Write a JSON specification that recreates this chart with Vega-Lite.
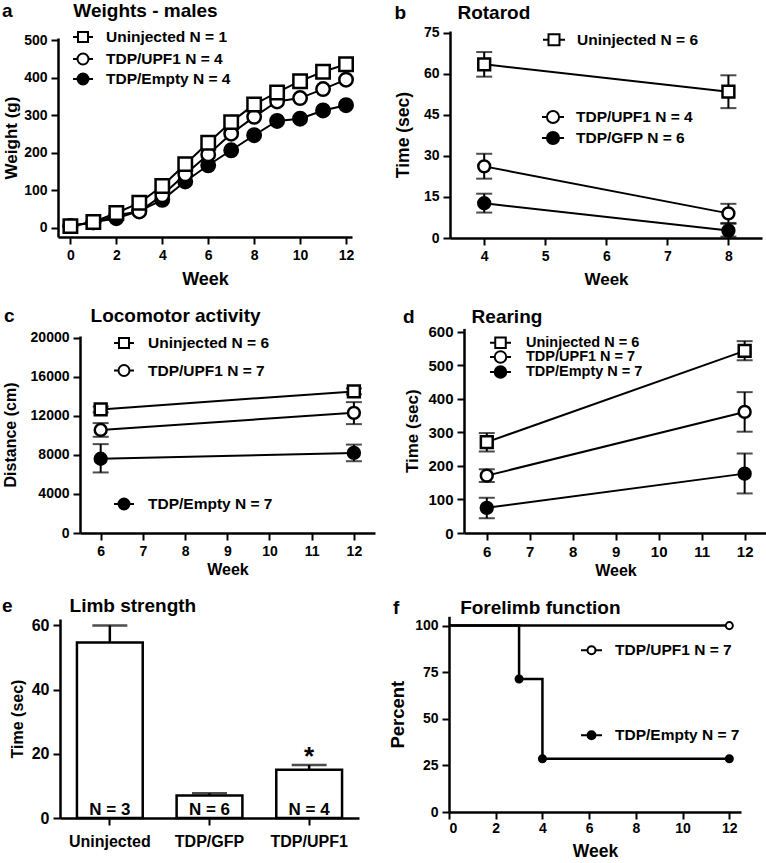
{
  "$schema": "https://vega.github.io/schema/vega-lite/v6.json",
  "padding": {"left": 2, "top": 2, "right": 0, "bottom": 0},
  "background": "white",
  "config": {
    "font": "Liberation Sans",
    "view": {"stroke": null},
    "axis": {"domainColor": "black", "domainWidth": 2.5, "tickColor": "black", "tickWidth": 2, "tickSize": 7, "labelColor": "black", "labelFontWeight": "bold", "labelFontSize": 14, "labelPadding": 4, "titleColor": "black", "titleFontWeight": "bold", "titleFontSize": 17, "grid": false},
    "title": {"fontSize": 19, "fontWeight": "bold", "color": "black", "anchor": "start", "frame": "bounds", "offset": 6},
    "legend": {"labelFontWeight": "bold", "labelColor": "black", "labelFontSize": 15.5, "padding": 0, "symbolStrokeWidth": 2, "symbolStrokeColor": "black", "symbolFillColor": "transparent", "symbolOpacity": 1, "title": null, "orient": "none"}
  },
  "datasets": {
    "a": [
      {"week": 0, "group": "TDP/Empty N = 4", "mean": 5}, {"week": 1, "group": "TDP/Empty N = 4", "mean": 15}, {"week": 2, "group": "TDP/Empty N = 4", "mean": 26}, {"week": 3, "group": "TDP/Empty N = 4", "mean": 45}, {"week": 4, "group": "TDP/Empty N = 4", "mean": 75}, {"week": 5, "group": "TDP/Empty N = 4", "mean": 124}, {"week": 6, "group": "TDP/Empty N = 4", "mean": 167}, {"week": 7, "group": "TDP/Empty N = 4", "mean": 207}, {"week": 8, "group": "TDP/Empty N = 4", "mean": 247}, {"week": 9, "group": "TDP/Empty N = 4", "mean": 285}, {"week": 10, "group": "TDP/Empty N = 4", "mean": 291}, {"week": 11, "group": "TDP/Empty N = 4", "mean": 313}, {"week": 12, "group": "TDP/Empty N = 4", "mean": 327},
      {"week": 0, "group": "TDP/UPF1 N = 4", "mean": 5}, {"week": 1, "group": "TDP/UPF1 N = 4", "mean": 15}, {"week": 2, "group": "TDP/UPF1 N = 4", "mean": 34}, {"week": 3, "group": "TDP/UPF1 N = 4", "mean": 44}, {"week": 4, "group": "TDP/UPF1 N = 4", "mean": 87}, {"week": 5, "group": "TDP/UPF1 N = 4", "mean": 143}, {"week": 6, "group": "TDP/UPF1 N = 4", "mean": 196}, {"week": 7, "group": "TDP/UPF1 N = 4", "mean": 251}, {"week": 8, "group": "TDP/UPF1 N = 4", "mean": 296}, {"week": 9, "group": "TDP/UPF1 N = 4", "mean": 337}, {"week": 10, "group": "TDP/UPF1 N = 4", "mean": 346}, {"week": 11, "group": "TDP/UPF1 N = 4", "mean": 370}, {"week": 12, "group": "TDP/UPF1 N = 4", "mean": 395},
      {"week": 0, "group": "Uninjected N = 1", "mean": 5}, {"week": 1, "group": "Uninjected N = 1", "mean": 16}, {"week": 2, "group": "Uninjected N = 1", "mean": 40}, {"week": 3, "group": "Uninjected N = 1", "mean": 67}, {"week": 4, "group": "Uninjected N = 1", "mean": 112}, {"week": 5, "group": "Uninjected N = 1", "mean": 170}, {"week": 6, "group": "Uninjected N = 1", "mean": 227}, {"week": 7, "group": "Uninjected N = 1", "mean": 282}, {"week": 8, "group": "Uninjected N = 1", "mean": 329}, {"week": 9, "group": "Uninjected N = 1", "mean": 361}, {"week": 10, "group": "Uninjected N = 1", "mean": 391}, {"week": 11, "group": "Uninjected N = 1", "mean": 416}, {"week": 12, "group": "Uninjected N = 1", "mean": 436}
    ],
    "b": [
      {"week": 4, "group": "TDP/GFP N = 6", "mean": 12.7, "lo": 9.3, "hi": 16.2},
      {"week": 8, "group": "TDP/GFP N = 6", "mean": 2.7, "lo": 0.5, "hi": 5.2},
      {"week": 4, "group": "TDP/UPF1 N = 4", "mean": 26.2, "lo": 21.7, "hi": 30.8},
      {"week": 8, "group": "TDP/UPF1 N = 4", "mean": 9, "lo": 5.5, "hi": 12.5},
      {"week": 4, "group": "Uninjected N = 6", "mean": 63.5, "lo": 59, "hi": 68},
      {"week": 8, "group": "Uninjected N = 6", "mean": 53.5, "lo": 47.5, "hi": 59.5}
    ],
    "c": [
      {"week": 6, "group": "TDP/Empty N = 7", "mean": 7600, "lo": 6200, "hi": 9100},
      {"week": 12, "group": "TDP/Empty N = 7", "mean": 8200, "lo": 7350, "hi": 9050},
      {"week": 6, "group": "TDP/UPF1 N = 7", "mean": 10550, "lo": 9850, "hi": 11250},
      {"week": 12, "group": "TDP/UPF1 N = 7", "mean": 12300, "lo": 11150, "hi": 13400},
      {"week": 6, "group": "Uninjected N = 6", "mean": 12650, "lo": 12350, "hi": 12950},
      {"week": 12, "group": "Uninjected N = 6", "mean": 14500, "lo": 14200, "hi": 14800}
    ],
    "d": [
      {"week": 6, "group": "TDP/Empty N = 7", "mean": 75, "lo": 44, "hi": 105},
      {"week": 12, "group": "TDP/Empty N = 7", "mean": 177, "lo": 118, "hi": 237},
      {"week": 6, "group": "TDP/UPF1 N = 7", "mean": 171, "lo": 152, "hi": 190},
      {"week": 12, "group": "TDP/UPF1 N = 7", "mean": 361, "lo": 302, "hi": 420},
      {"week": 6, "group": "Uninjected N = 6", "mean": 271, "lo": 243, "hi": 298},
      {"week": 12, "group": "Uninjected N = 6", "mean": 543, "lo": 515, "hi": 572}
    ],
    "e": [
      {"group": "Uninjected", "mean": 54.7, "hi": 60, "n": "N = 3", "sig": ""},
      {"group": "TDP/GFP", "mean": 7.0, "hi": 7.7, "n": "N = 6", "sig": ""},
      {"group": "TDP/UPF1", "mean": 15.0, "hi": 16.5, "n": "N = 4", "sig": "*"}
    ],
    "f_line": [
      {"week": 0, "group": "TDP/UPF1 N = 7", "pct": 100}, {"week": 12, "group": "TDP/UPF1 N = 7", "pct": 100},
      {"week": 0, "group": "TDP/Empty N = 7", "pct": 100}, {"week": 3, "group": "TDP/Empty N = 7", "pct": 71.4}, {"week": 4, "group": "TDP/Empty N = 7", "pct": 28.6}, {"week": 12, "group": "TDP/Empty N = 7", "pct": 28.6}
    ],
    "f_pts": [
      {"week": 12, "group": "TDP/UPF1 N = 7", "pct": 100},
      {"week": 3, "group": "TDP/Empty N = 7", "pct": 71.4}, {"week": 4, "group": "TDP/Empty N = 7", "pct": 28.6}, {"week": 12, "group": "TDP/Empty N = 7", "pct": 28.6}
    ]
  },
  "columns": 1,
  "align": "none",
  "spacing": 19,
  "resolve": {"scale": {"shape": "independent", "fill": "independent"}},
  "concat": [
    {
      "columns": 2, "align": "none", "spacing": 20,
      "resolve": {"scale": {"shape": "independent", "fill": "independent"}},
      "concat": [
        {
          "width": 272, "height": 199,
          "title": {"text": "a\u2003\u2003\u2003\u2009Weights - males", "offset": 4.6},
          "data": {"name": "a"},
          "encoding": {
            "x": {"field": "week", "type": "quantitative", "scale": {"domain": [-0.54, 12.26], "range": [-22, 272], "nice": false, "zero": false}, "axis": {"values": [0, 2, 4, 6, 8, 10, 12], "title": "Week", "titleFontSize": 18, "titlePadding": 8}},
            "y": {"field": "mean", "type": "quantitative", "scale": {"domain": [-24, 506], "nice": false, "zero": false}, "axis": {"values": [0, 100, 200, 300, 400, 500], "title": "Weight (g)", "offset": 22, "minExtent": 32, "maxExtent": 32, "titlePadding": 6}}
          },
          "layer": [
            {"mark": {"type": "line", "color": "black", "strokeWidth": 2}, "encoding": {"detail": {"field": "group"}}},
            {"transform": [{"filter": "datum.group === 'Uninjected N = 1'"}], "mark": {"type": "point", "filled": false, "color": "black", "strokeWidth": 2, "size": 4},
             "encoding": {"shape": {"field": "group", "type": "nominal", "scale": {"domain": ["Uninjected N = 1"], "range": ["M-1,0H-0.5M0.5,0H1M-0.5,-0.5H0.5V0.5H-0.5Z"]},
               "legend": {"legendX": -8, "legendY": -12, "symbolSize": 400, "labelOffset": 12}}}},
            {"transform": [{"filter": "datum.group === 'TDP/UPF1 N = 4'"}], "mark": {"type": "point", "filled": false, "color": "black", "strokeWidth": 2, "size": 4},
             "encoding": {"shape": {"field": "group", "type": "nominal", "scale": {"domain": ["TDP/UPF1 N = 4"], "range": ["M-1,0H-0.55M0.55,0H1M-0.55,0A0.55,0.55,0,1,0,0.55,0A0.55,0.55,0,1,0,-0.55,0Z"]},
               "legend": {"legendX": -8, "legendY": 10, "symbolSize": 400, "labelOffset": 12}}}},
            {"transform": [{"filter": "datum.group === 'TDP/Empty N = 4'"}], "mark": {"type": "point", "filled": false, "color": "black", "strokeWidth": 2, "size": 4},
             "encoding": {"shape": {"field": "group", "type": "nominal", "scale": {"domain": ["TDP/Empty N = 4"], "range": ["M-1,0H-0.55M0.55,0H1M-0.55,0A0.55,0.55,0,1,0,0.55,0A0.55,0.55,0,1,0,-0.55,0ZM-0.4,0A0.4,0.4,0,1,0,0.4,0A0.4,0.4,0,1,0,-0.4,0ZM-0.25,0A0.25,0.25,0,1,0,0.25,0A0.25,0.25,0,1,0,-0.25,0ZM-0.1,0A0.1,0.1,0,1,0,0.1,0A0.1,0.1,0,1,0,-0.1,0Z"]},
               "legend": {"legendX": -8, "legendY": 30, "symbolSize": 400, "labelOffset": 12}}}},
            {"mark": {"type": "point", "filled": true, "stroke": "black", "strokeWidth": 2.5, "size": 180, "opacity": 1},
             "encoding": {
               "shape": {"field": "group", "type": "nominal", "scale": {"domain": ["Uninjected N = 1", "TDP/UPF1 N = 4", "TDP/Empty N = 4"], "range": ["square", "circle", "circle"]}, "legend": null},
               "fill": {"field": "group", "type": "nominal", "scale": {"domain": ["Uninjected N = 1", "TDP/UPF1 N = 4", "TDP/Empty N = 4"], "range": ["white", "white", "black"]}, "legend": null}
             }}
          ],
          "resolve": {"scale": {"shape": "independent"}}
        },
        {
          "width": 312, "height": 200,
          "title": {"text": "b\u2003\u2003\u2002\u2009Rotarod", "offset": 3.3},
          "data": {"name": "b"},
          "encoding": {
            "x": {"field": "week", "type": "quantitative", "scale": {"domain": [3.44, 8.55], "nice": false, "zero": false}, "axis": {"values": [4, 5, 6, 7, 8], "title": "Week", "titleFontSize": 17, "titlePadding": 8}},
            "y": {"field": "mean", "type": "quantitative", "scale": {"domain": [0, 75.7], "range": [200, -7], "nice": false, "zero": false}, "axis": {"values": [0, 15, 30, 45, 60, 75], "title": "Time (sec)", "titleFontSize": 17.5, "minExtent": 31.5, "maxExtent": 31.5, "titlePadding": 6}}
          },
          "layer": [
            {"mark": {"type": "line", "color": "black", "strokeWidth": 2}, "encoding": {"detail": {"field": "group"}}},
            {"mark": {"type": "errorbar", "color": "black", "ticks": {"size": 16, "thickness": 2, "color": "black"}, "rule": {"strokeWidth": 2, "color": "black"}}, "encoding": {"y": {"field": "lo", "type": "quantitative", "scale": {"domain": [0, 75.7], "range": [200, -7], "nice": false, "zero": false}, "title": "Time (sec)"}, "y2": {"field": "hi"}}},
            {"transform": [{"filter": "datum.group === 'Uninjected N = 6'"}], "mark": {"type": "point", "filled": false, "color": "black", "strokeWidth": 2, "size": 4},
             "encoding": {"shape": {"field": "group", "type": "nominal", "scale": {"domain": ["Uninjected N = 6"], "range": ["M-1,0H-0.5M0.5,0H1M-0.5,-0.5H0.5V0.5H-0.5Z"]},
               "legend": {"legendX": 92, "legendY": -10.3, "symbolSize": 484, "labelOffset": 11}}}},
            {"transform": [{"filter": "datum.group === 'TDP/UPF1 N = 4'"}], "mark": {"type": "point", "filled": false, "color": "black", "strokeWidth": 2, "size": 4},
             "encoding": {"shape": {"field": "group", "type": "nominal", "scale": {"domain": ["TDP/UPF1 N = 4"], "range": ["M-1,0H-0.55M0.55,0H1M-0.55,0A0.55,0.55,0,1,0,0.55,0A0.55,0.55,0,1,0,-0.55,0Z"]},
               "legend": {"legendX": 91, "legendY": 67, "symbolSize": 484, "labelOffset": 11}}}},
            {"transform": [{"filter": "datum.group === 'TDP/GFP N = 6'"}], "mark": {"type": "point", "filled": false, "color": "black", "strokeWidth": 2, "size": 4},
             "encoding": {"shape": {"field": "group", "type": "nominal", "scale": {"domain": ["TDP/GFP N = 6"], "range": ["M-1,0H-0.55M0.55,0H1M-0.55,0A0.55,0.55,0,1,0,0.55,0A0.55,0.55,0,1,0,-0.55,0ZM-0.4,0A0.4,0.4,0,1,0,0.4,0A0.4,0.4,0,1,0,-0.4,0ZM-0.25,0A0.25,0.25,0,1,0,0.25,0A0.25,0.25,0,1,0,-0.25,0ZM-0.1,0A0.1,0.1,0,1,0,0.1,0A0.1,0.1,0,1,0,-0.1,0Z"]},
               "legend": {"legendX": 91, "legendY": 88, "symbolSize": 484, "labelOffset": 11}}}},
            {"mark": {"type": "point", "filled": true, "stroke": "black", "strokeWidth": 2.5, "size": 140, "opacity": 1},
             "encoding": {
               "shape": {"field": "group", "type": "nominal", "scale": {"domain": ["Uninjected N = 6", "TDP/UPF1 N = 4", "TDP/GFP N = 6"], "range": ["square", "circle", "circle"]}, "legend": null},
               "fill": {"field": "group", "type": "nominal", "scale": {"domain": ["Uninjected N = 6", "TDP/UPF1 N = 4", "TDP/GFP N = 6"], "range": ["white", "white", "black"]}, "legend": null}
             }}
          ],
          "resolve": {"scale": {"shape": "independent"}}
        }
      ]
    },
    {
      "columns": 2, "align": "none", "spacing": 28,
      "resolve": {"scale": {"shape": "independent", "fill": "independent"}},
      "concat": [
        {
          "width": 295, "height": 197,
          "title": {"text": "c\u2003\u2003\u2003\u2003Locomotor activity", "offset": 4.2, "dx": 2},
          "data": {"name": "c"},
          "encoding": {
            "x": {"field": "week", "type": "quantitative", "scale": {"domain": [5.51, 12.5], "nice": false, "zero": false}, "axis": {"values": [6, 7, 8, 9, 10, 11, 12], "title": "Week", "titleFontSize": 16, "titlePadding": 3}},
            "y": {"field": "mean", "type": "quantitative", "scale": {"domain": [0, 20170], "nice": false, "zero": false}, "axis": {"values": [0, 4000, 8000, 12000, 16000, 20000], "format": "d", "title": "Distance (cm)", "titleFontSize": 16, "minExtent": 56, "maxExtent": 56, "titlePadding": 6}}
          },
          "layer": [
            {"mark": {"type": "line", "color": "black", "strokeWidth": 2}, "encoding": {"detail": {"field": "group"}}},
            {"mark": {"type": "errorbar", "color": "black", "ticks": {"size": 16, "thickness": 2, "color": "black"}, "rule": {"strokeWidth": 2, "color": "black"}}, "encoding": {"y": {"field": "lo", "type": "quantitative", "scale": {"domain": [0, 20170], "nice": false, "zero": false}, "title": "Distance (cm)"}, "y2": {"field": "hi"}}},
            {"transform": [{"filter": "datum.group === 'Uninjected N = 6'"}], "mark": {"type": "point", "filled": false, "color": "black", "strokeWidth": 2, "size": 4},
             "encoding": {"shape": {"field": "group", "type": "nominal", "scale": {"domain": ["Uninjected N = 6"], "range": ["M-1,0H-0.5M0.5,0H1M-0.5,-0.5H0.5V0.5H-0.5Z"]},
               "legend": {"legendX": 33, "legendY": -4, "symbolSize": 400, "labelOffset": 13}}}},
            {"transform": [{"filter": "datum.group === 'TDP/UPF1 N = 7'"}], "mark": {"type": "point", "filled": false, "color": "black", "strokeWidth": 2, "size": 4},
             "encoding": {"shape": {"field": "group", "type": "nominal", "scale": {"domain": ["TDP/UPF1 N = 7"], "range": ["M-1,0H-0.55M0.55,0H1M-0.55,0A0.55,0.55,0,1,0,0.55,0A0.55,0.55,0,1,0,-0.55,0Z"]},
               "legend": {"legendX": 33, "legendY": 23.5, "symbolSize": 400, "labelOffset": 13}}}},
            {"transform": [{"filter": "datum.group === 'TDP/Empty N = 7'"}], "mark": {"type": "point", "filled": false, "color": "black", "strokeWidth": 2, "size": 4},
             "encoding": {"shape": {"field": "group", "type": "nominal", "scale": {"domain": ["TDP/Empty N = 7"], "range": ["M-1,0H-0.55M0.55,0H1M-0.55,0A0.55,0.55,0,1,0,0.55,0A0.55,0.55,0,1,0,-0.55,0ZM-0.4,0A0.4,0.4,0,1,0,0.4,0A0.4,0.4,0,1,0,-0.4,0ZM-0.25,0A0.25,0.25,0,1,0,0.25,0A0.25,0.25,0,1,0,-0.25,0ZM-0.1,0A0.1,0.1,0,1,0,0.1,0A0.1,0.1,0,1,0,-0.1,0Z"]},
               "legend": {"legendX": 33, "legendY": 157, "symbolSize": 400, "labelOffset": 13}}}},
            {"mark": {"type": "point", "filled": true, "stroke": "black", "strokeWidth": 2.5, "size": 140, "opacity": 1},
             "encoding": {
               "shape": {"field": "group", "type": "nominal", "scale": {"domain": ["Uninjected N = 6", "TDP/UPF1 N = 7", "TDP/Empty N = 7"], "range": ["square", "circle", "circle"]}, "legend": null},
               "fill": {"field": "group", "type": "nominal", "scale": {"domain": ["Uninjected N = 6", "TDP/UPF1 N = 7", "TDP/Empty N = 7"], "range": ["white", "white", "black"]}, "legend": null}
             }}
          ],
          "resolve": {"scale": {"shape": "independent"}}
        },
        {
          "width": 303, "height": 197,
          "title": {"text": "d\u2003\u2003\u2003Rearing", "offset": -2.5},
          "data": {"name": "d"},
          "encoding": {
            "x": {"field": "week", "type": "quantitative", "scale": {"domain": [5.47, 12.52], "nice": false, "zero": false}, "axis": {"values": [6, 7, 8, 9, 10, 11, 12], "title": "Week", "titleFontSize": 16, "titlePadding": 3, "labelFontSize": 15}},
            "y": {"field": "mean", "type": "quantitative", "scale": {"domain": [0, 610], "range": [197, -7.6], "nice": false, "zero": false}, "axis": {"values": [0, 100, 200, 300, 400, 500, 600], "title": "Time (sec)", "labelFontSize": 15, "minExtent": 37, "maxExtent": 37, "titlePadding": 6}}
          },
          "layer": [
            {"mark": {"type": "line", "color": "black", "strokeWidth": 2}, "encoding": {"detail": {"field": "group"}}},
            {"mark": {"type": "errorbar", "color": "black", "ticks": {"size": 16, "thickness": 2, "color": "black"}, "rule": {"strokeWidth": 2, "color": "black"}}, "encoding": {"y": {"field": "lo", "type": "quantitative", "scale": {"domain": [0, 610], "range": [197, -7.6], "nice": false, "zero": false}, "title": "Time (sec)"}, "y2": {"field": "hi"}}},
            {"transform": [{"filter": "datum.group === 'Uninjected N = 6'"}], "mark": {"type": "point", "filled": false, "color": "black", "strokeWidth": 2, "size": 4},
             "encoding": {"shape": {"field": "group", "type": "nominal", "scale": {"domain": ["Uninjected N = 6"], "range": ["M-1,0H-0.5M0.5,0H1M-0.5,-0.5H0.5V0.5H-0.5Z"]},
               "legend": {"legendX": 25, "legendY": -4.8, "symbolSize": 441, "labelOffset": 14, "labelFontSize": 14.5}}}},
            {"transform": [{"filter": "datum.group === 'TDP/UPF1 N = 7'"}], "mark": {"type": "point", "filled": false, "color": "black", "strokeWidth": 2, "size": 4},
             "encoding": {"shape": {"field": "group", "type": "nominal", "scale": {"domain": ["TDP/UPF1 N = 7"], "range": ["M-1,0H-0.55M0.55,0H1M-0.55,0A0.55,0.55,0,1,0,0.55,0A0.55,0.55,0,1,0,-0.55,0Z"]},
               "legend": {"legendX": 25, "legendY": 9.5, "symbolSize": 441, "labelOffset": 14, "labelFontSize": 14.5}}}},
            {"transform": [{"filter": "datum.group === 'TDP/Empty N = 7'"}], "mark": {"type": "point", "filled": false, "color": "black", "strokeWidth": 2, "size": 4},
             "encoding": {"shape": {"field": "group", "type": "nominal", "scale": {"domain": ["TDP/Empty N = 7"], "range": ["M-1,0H-0.55M0.55,0H1M-0.55,0A0.55,0.55,0,1,0,0.55,0A0.55,0.55,0,1,0,-0.55,0ZM-0.4,0A0.4,0.4,0,1,0,0.4,0A0.4,0.4,0,1,0,-0.4,0ZM-0.25,0A0.25,0.25,0,1,0,0.25,0A0.25,0.25,0,1,0,-0.25,0ZM-0.1,0A0.1,0.1,0,1,0,0.1,0A0.1,0.1,0,1,0,-0.1,0Z"]},
               "legend": {"legendX": 25, "legendY": 24.5, "symbolSize": 441, "labelOffset": 14, "labelFontSize": 14.5}}}},
            {"mark": {"type": "point", "filled": true, "stroke": "black", "strokeWidth": 2.5, "size": 140, "opacity": 1},
             "encoding": {
               "shape": {"field": "group", "type": "nominal", "scale": {"domain": ["Uninjected N = 6", "TDP/UPF1 N = 7", "TDP/Empty N = 7"], "range": ["square", "circle", "circle"]}, "legend": null},
               "fill": {"field": "group", "type": "nominal", "scale": {"domain": ["Uninjected N = 6", "TDP/UPF1 N = 7", "TDP/Empty N = 7"], "range": ["white", "white", "black"]}, "legend": null}
             }}
          ],
          "resolve": {"scale": {"shape": "independent"}}
        }
      ]
    },
    {
      "columns": 2, "align": "none", "spacing": 9,
      "resolve": {"scale": {"shape": "independent", "fill": "independent"}},
      "concat": [
        {
          "width": 279, "height": 199,
          "title": {"text": "e\u2003\u2003\u2003Limb strength", "offset": 1, "dx": -7},
          "data": {"name": "e"},
          "encoding": {
            "x": {"field": "group", "type": "nominal", "sort": null, "scale": {"range": [-20, 279], "paddingInner": 0.34, "paddingOuter": 0.17}, "axis": {"title": null, "labelAngle": 0, "labelFontSize": 16, "labelPadding": 8}}
          },
          "layer": [
            {"mark": {"type": "rule", "color": "black", "strokeWidth": 2.5}, "encoding": {"y": {"field": "mean", "type": "quantitative", "scale": {"domain": [0, 62], "nice": false, "zero": false}, "axis": {"values": [0, 10, 20, 30, 40, 50, 60], "title": "Time (sec)", "titleFontSize": 16, "labelFontSize": 16, "offset": 20, "minExtent": 29, "maxExtent": 29, "titlePadding": 6}}, "y2": {"field": "hi"}}},
            {"mark": {"type": "tick", "color": "black", "thickness": 2.5, "size": 35, "orient": "horizontal"}, "encoding": {"y": {"field": "hi", "type": "quantitative"}}},
            {"mark": {"type": "bar", "fill": "white", "stroke": "black", "strokeWidth": 2.5}, "encoding": {"y": {"field": "mean", "type": "quantitative"}}},
            {"mark": {"type": "text", "baseline": "alphabetic", "dy": -3, "fontSize": 17, "fontWeight": "bold", "color": "black"}, "encoding": {"y": {"datum": 0}, "text": {"field": "n"}}},
            {"transform": [{"filter": "datum.sig !== ''"}], "mark": {"type": "text", "baseline": "alphabetic", "dy": 0, "fontSize": 26, "fontWeight": "bold", "color": "black"}, "encoding": {"y": {"field": "hi", "type": "quantitative"}, "text": {"field": "sig"}}}
          ]
        },
        {
          "width": 292, "height": 193,
          "title": {"text": "f\u2003\u2003\u2003\u2009Forelimb function", "offset": 0, "dx": 5},
          "layer": [
            {"data": {"name": "f_line"}, "mark": {"type": "line", "interpolate": "step-after", "color": "black", "strokeWidth": 2.5},
             "encoding": {
               "x": {"field": "week", "type": "quantitative", "scale": {"domain": [0, 12.5], "nice": false, "zero": false}, "axis": {"values": [0, 2, 4, 6, 8, 10, 12], "title": "Week", "titleFontSize": 17.5, "titlePadding": 7, "labelPadding": 2}},
               "y": {"field": "pct", "type": "quantitative", "scale": {"domain": [0, 105], "range": [193, -2.7], "nice": false, "zero": false}, "axis": {"values": [0, 25, 50, 75, 100], "title": "Percent", "titleFontSize": 18.5, "minExtent": 34, "maxExtent": 34, "titlePadding": 8}},
               "detail": {"field": "group"}
             }},
            {"data": {"name": "f_pts"}, "transform": [{"filter": "datum.group === 'TDP/UPF1 N = 7'"}], "mark": {"type": "point", "filled": false, "color": "black", "strokeWidth": 2, "size": 4},
             "encoding": {
               "x": {"field": "week", "type": "quantitative"},
               "y": {"field": "pct", "type": "quantitative"},
               "shape": {"field": "group", "type": "nominal", "scale": {"domain": ["TDP/UPF1 N = 7"], "range": ["M-1,0H-0.38M0.38,0H1M-0.38,0A0.38,0.38,0,1,0,0.38,0A0.38,0.38,0,1,0,-0.38,0Z"]},
                 "legend": {"legendX": 131, "legendY": 19.8, "symbolSize": 441, "labelOffset": 12}}
             }},
            {"data": {"name": "f_pts"}, "transform": [{"filter": "datum.group === 'TDP/Empty N = 7'"}], "mark": {"type": "point", "filled": false, "color": "black", "strokeWidth": 2, "size": 4},
             "encoding": {
               "x": {"field": "week", "type": "quantitative"},
               "y": {"field": "pct", "type": "quantitative"},
               "shape": {"field": "group", "type": "nominal", "scale": {"domain": ["TDP/Empty N = 7"], "range": ["M-1,0H-0.38M0.38,0H1M-0.38,0A0.38,0.38,0,1,0,0.38,0A0.38,0.38,0,1,0,-0.38,0ZM-0.24,0A0.24,0.24,0,1,0,0.24,0A0.24,0.24,0,1,0,-0.24,0ZM-0.1,0A0.1,0.1,0,1,0,0.1,0A0.1,0.1,0,1,0,-0.1,0Z"]},
                 "legend": {"legendX": 131, "legendY": 104.8, "symbolSize": 441, "labelOffset": 12}}
             }},
            {"data": {"name": "f_pts"}, "mark": {"type": "point", "filled": true, "stroke": "black", "strokeWidth": 2, "size": 50, "opacity": 1},
             "encoding": {
               "x": {"field": "week", "type": "quantitative"},
               "y": {"field": "pct", "type": "quantitative"},
               "shape": {"field": "group", "type": "nominal", "scale": {"domain": ["TDP/UPF1 N = 7", "TDP/Empty N = 7"], "range": ["circle", "circle"]}, "legend": null},
               "fill": {"field": "group", "type": "nominal", "scale": {"domain": ["TDP/UPF1 N = 7", "TDP/Empty N = 7"], "range": ["white", "black"]}, "legend": null}
             }}
          ],
          "resolve": {"scale": {"shape": "independent"}}
        }
      ]
    }
  ]
}
